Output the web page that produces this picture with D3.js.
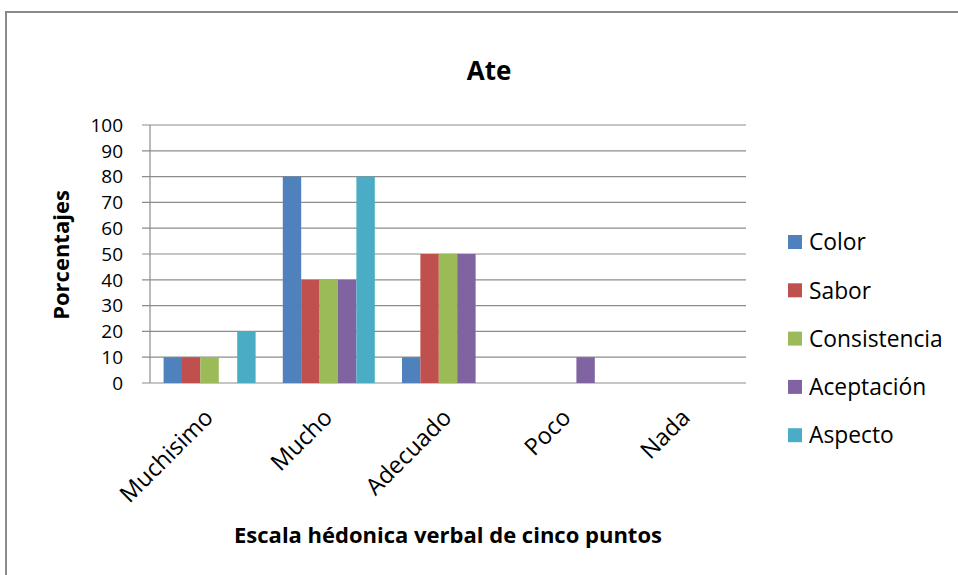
<!DOCTYPE html>
<html>
<head>
<meta charset="utf-8">
<script src="https://cdn.jsdelivr.net/npm/d3@7"></script>
<style>
  body { margin: 0; background: #fff; }
  text { font-family: "Open Sans", "Noto Sans", sans-serif; }
</style>
</head>
<body>
<div id="chart"></div>
<script>
// data
var categories = ["Muchisimo", "Mucho", "Adecuado", "Poco", "Nada"];
var seriesNames = ["Color", "Sabor", "Consistencia", "Aceptación", "Aspecto"];
var seriesColors = ["#4F81BD", "#C0504D", "#9BBB59", "#8064A2", "#4BACC6"];
var color        = [10, 80, 10, 0, 0];
var sabor        = [10, 40, 50, 0, 0];
var consistencia = [10, 40, 50, 0, 0];
var aceptacion   = [0, 40, 50, 10, 0];
var aspecto      = [20, 80, 0, 0, 0];
var yTicks = [0, 10, 20, 30, 40, 50, 60, 70, 80, 90, 100];

var seriesValues = [color, sabor, consistencia, aceptacion, aspecto];

var W = 958, H = 575;
var pLeft = 150, pRight = 746, pTop = 125, pBottom = 383;

var svg = d3.select("#chart")
  .append("svg")
  .attr("width", W)
  .attr("height", H);

// outer frame (only top and left visible)
svg.append("path")
  .attr("d", "M6,575 L6,12 L958,12")
  .attr("fill", "none")
  .attr("stroke", "#8a8a8a")
  .attr("stroke-width", 2);

var x = d3.scaleBand()
  .domain(d3.range(categories.length))
  .range([pLeft, pRight])
  .paddingInner(0.228)
  .paddingOuter(0.114);

var xs = d3.scaleBand()
  .domain(d3.range(seriesNames.length))
  .range([0, x.bandwidth()]);

var y = d3.scaleLinear().domain([0, 100]).range([pBottom, pTop]);

// gridlines
svg.append("g").selectAll("line")
  .data(yTicks)
  .enter().append("line")
  .attr("x1", pLeft - 8)
  .attr("x2", pRight)
  .attr("y1", function(d){ return y(d); })
  .attr("y2", function(d){ return y(d); })
  .attr("stroke", "#8c8c8c")
  .attr("stroke-width", 1.2);

// y axis line
svg.append("line")
  .attr("x1", pLeft).attr("x2", pLeft)
  .attr("y1", pTop).attr("y2", pBottom)
  .attr("stroke", "#8c8c8c")
  .attr("stroke-width", 1.2);

// y labels
svg.append("g").selectAll("text")
  .data(yTicks)
  .enter().append("text")
  .attr("x", pLeft - 27)
  .attr("y", function(d){ return y(d); })
  .attr("dy", "0.36em")
  .attr("text-anchor", "end")
  .style("font-size", "19px")
  .attr("fill", "#000")
  .text(function(d){ return d; });

// bars
var groups = svg.append("g").selectAll("g")
  .data(seriesValues)
  .enter().append("g")
  .attr("fill", function(d, i){ return seriesColors[i]; });

groups.each(function(vals, si){
  d3.select(this).selectAll("rect")
    .data(vals)
    .enter().append("rect")
    .attr("x", function(d, ci){ return x(ci) + xs(si); })
    .attr("width", xs.bandwidth())
    .attr("y", function(d){ return y(d); })
    .attr("height", function(d){ return y(0) - y(d); });
});

// x labels
svg.append("g").selectAll("text")
  .data(categories)
  .enter().append("text")
  .attr("transform", function(d, i){
    var cx = x(i) + x.bandwidth() / 2;
    return "translate(" + (cx + 5) + "," + (pBottom + 36) + ") rotate(-45)";
  })
  .attr("text-anchor", "end")
  .style("font-size", "23.5px")
  .text(function(d){ return d; });

// title
svg.append("text")
  .attr("x", 489)
  .attr("y", 80)
  .attr("text-anchor", "middle")
  .style("font-size", "26px")
  .style("font-weight", "bold")
  .text("Ate");

// axis titles
svg.append("text")
  .attr("transform", "translate(69,255) rotate(-90)")
  .attr("text-anchor", "middle")
  .style("font-size", "22px")
  .style("font-weight", "bold")
  .text("Porcentajes");

svg.append("text")
  .attr("x", 448)
  .attr("y", 543)
  .attr("text-anchor", "middle")
  .style("font-size", "22px")
  .style("font-weight", "bold")
  .text("Escala hédonica verbal de cinco puntos");

// legend
var leg = svg.append("g").selectAll("g")
  .data(seriesNames)
  .enter().append("g")
  .attr("transform", function(d, i){ return "translate(788," + (242 + i * 48.3) + ")"; });

leg.append("rect")
  .attr("x", 0).attr("y", -7)
  .attr("width", 14).attr("height", 14)
  .attr("fill", function(d, i){ return seriesColors[i]; });

leg.append("text")
  .attr("x", 21)
  .attr("dy", "0.36em")
  .style("font-size", "22.8px")
  .text(function(d){ return d; });
</script>
</body>
</html>
